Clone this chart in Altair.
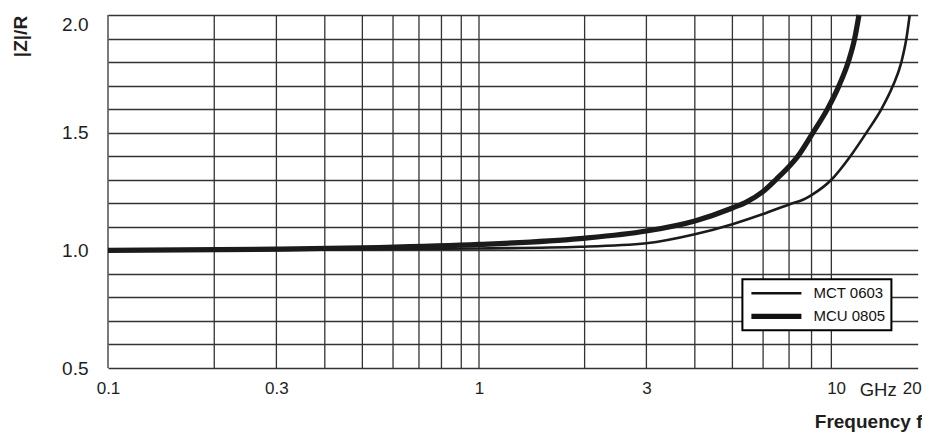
import altair as alt
import pandas as pd

# ---- data ----
series_names = ["MCT 0603", "MCU 0805"]

mct_freq = [0.1, 0.3, 1, 1.94, 3, 4, 5, 6, 7, 7.6, 8, 9, 10.13, 11.91, 13.86, 15.58, 16.96, 17.84, 18.45]
mct_z = [1.0, 1.002, 1.008, 1.015, 1.03, 1.068, 1.111, 1.154, 1.195, 1.215, 1.235, 1.30, 1.40, 1.50, 1.60, 1.70, 1.80, 1.90, 2.00]

mcu_freq = [0.1, 0.3, 0.55, 1, 1.94, 3, 4, 5, 5.43, 6, 6.49, 7.0, 7.38, 8.07, 8.79, 9.42, 9.95, 10.58, 11.05]
mcu_z = [1.0, 1.005, 1.012, 1.025, 1.05, 1.082, 1.125, 1.18, 1.205, 1.25, 1.302, 1.356, 1.40, 1.50, 1.60, 1.70, 1.80, 1.90, 2.00]

grid_freq = [0.1, 0.2, 0.3, 0.4, 0.5, 0.6, 0.7, 0.8, 0.9, 1, 2, 3, 4, 5, 6, 7, 8, 9]
y_grid = [0.5, 0.6, 0.7, 0.8, 0.9, 1.0, 1.1, 1.2, 1.3, 1.4, 1.5, 1.6, 1.7, 1.8, 1.9, 2.0]

x_label_values = [0.1, 0.3, 1, 3, 10, 13.35, 20]
x_label_texts = ["0.1", "0.3", "1", "3", "10", "GHz", "20"]

# piecewise log scale (the reference axis is drawn in uneven log segments);
# break positions are fractions of the plot width
scale_breaks = [0.1, 0.3, 1, 3, 10, 20]
scale_fracs = [0.0, 0.20688, 0.45577, 0.66143, 0.91044, 0.99472]

# ---- tables ----
curves = pd.concat([
    pd.DataFrame({"f": mct_freq, "z": mct_z, "series": series_names[0], "o": range(len(mct_freq))}),
    pd.DataFrame({"f": mcu_freq, "z": mcu_z, "series": series_names[1], "o": range(len(mcu_freq))}),
])
grid_df = pd.DataFrame({"f": grid_freq})

xscale = alt.Scale(
    type="log",
    domain=scale_breaks,
    range=[alt.expr(f"width * {fr}") for fr in scale_fracs],
    nice=False,
)
yscale = alt.Scale(domain=[0.5, 2.0], nice=False, zero=False)

label_expr = "".join(
    f"datum.value == {v} ? '{t}' : " for v, t in zip(x_label_values, x_label_texts)
) + "''"

grid_color = "#333333"
text_color = "#1e1e1e"

x_axis = alt.Axis(
    values=x_label_values,
    labelExpr=label_expr,
    grid=False,
    ticks=False,
    domain=False,
    labelFlush=False,
    labelFontSize={"condition": {"test": "datum.value == 13.35", "value": 18.5}, "value": 17},
    labelPadding=12,
    labelOffset={
        "condition": [
            {"test": "datum.value == 10", "value": -13},
            {"test": "datum.value == 20", "value": -6},
        ],
        "value": 0,
    },
    labelColor=text_color,
    labelBaseline="top",
    labelOverlap=False,
    title="Frequency f",
    titleFontSize=19,
    titleFontWeight="bold",
    titleColor=text_color,
    titleX=814,
    titleY=59,
    titleAlign="right",
    titleAnchor="end",
    titleBaseline="alphabetic",
)

vgrid = alt.Chart(grid_df).mark_rule(color=grid_color, strokeWidth=1.3).encode(
    x=alt.X("f:Q", scale=xscale, axis=x_axis)
)

lines = alt.Chart(curves).mark_line(color="#1b1b1b", interpolate="monotone", strokeCap="butt").encode(
    x=alt.X("f:Q", scale=xscale, axis=x_axis),
    y=alt.Y(
        "z:Q",
        scale=yscale,
        axis=alt.Axis(
            values=y_grid,
            labelExpr="round(datum.value * 10) % 5 == 0 ? format(datum.value, '.1f') : ''",
            grid=True,
            gridColor=grid_color,
            gridWidth=1.3,
            gridOpacity=1,
            ticks=False,
            domain=False,
            labelFontSize=19,
            labelColor=text_color,
            labelPadding=20,
            labelBaseline={"condition": {"test": "datum.value == 2", "value": "top"}, "value": "middle"},
            title="|Z|/R",
            titleFontSize=19,
            titleFontWeight="bold",
            titleColor=text_color,
            titleAngle=270,
            titleX=-88,
            titleY=21,
            titleAlign="center",
            titleBaseline="middle",
        ),
    ),
    strokeWidth=alt.StrokeWidth(
        "series:N",
        scale=alt.Scale(domain=series_names, range=[2.6, 5.2]),
        legend=alt.Legend(
            orient="none",
            legendX=634.4,
            legendY=264.3,
            title=None,
            fillColor="white",
            strokeColor="black",
            padding=6,
            symbolType="stroke",
            symbolSize=2500,
            symbolStrokeColor="#111111",
            labelFontSize=15,
            labelOffset=9,
            labelColor="#111111",
            rowPadding=7,
            clipHeight=16,
        ),
    ),
    detail="series:N",
    order="o:Q",
)

chart = (
    alt.layer(vgrid, lines)
    .properties(
        width=814,
        height=353,
        autosize=alt.AutoSizeParams(type="none"),
        padding={"left": 100, "top": 7, "right": 0, "bottom": 65},
    )
    .configure(font="Liberation Sans")
    .configure_view(stroke=None)
    .configure_legend(strokeWidth=2)
)

chart.save("out.html", embed_options={"renderer": "svg", "actions": False})
